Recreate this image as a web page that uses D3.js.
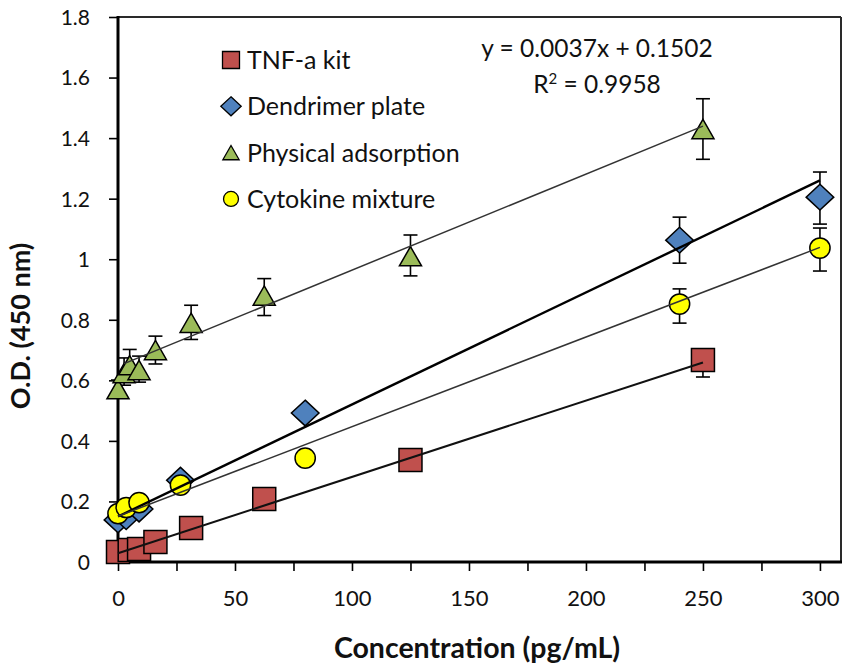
<!DOCTYPE html>
<html>
<head>
<meta charset="utf-8">
<script src="https://cdn.jsdelivr.net/npm/d3@7"></script>
<style>
  body { margin: 0; background: #fff; }
  svg { display: block; }
  text { font-family: Lato, "Open Sans", sans-serif; fill: #111; }
</style>
</head>
<body>
<svg id="chart" width="845" height="665"></svg>
<script>
// ---- data ----
const seriesNames = ["TNF-a kit", "Dendrimer plate", "Physical adsorption", "Cytokine mixture"];

const tnfX = [0, 5, 9, 16, 31.25, 62.5, 125, 250];
const tnfY = [0.033, 0.04, 0.043, 0.066, 0.112, 0.208, 0.337, 0.667];
const tnfErrUp = [0.005, 0.005, 0.005, 0.005, 0.008, 0.01, 0.012, 0.02];
const tnfErrDown = [0.005, 0.005, 0.005, 0.005, 0.008, 0.01, 0.012, 0.056];

const denX = [0, 3.5, 9, 26.7, 80, 240, 300];
const denY = [0.139, 0.15, 0.175, 0.27, 0.492, 1.063, 1.205];
const denErrUp = [0.01, 0.01, 0.01, 0.015, 0.02, 0.076, 0.083];
const denErrDown = [0.01, 0.01, 0.01, 0.015, 0.02, 0.076, 0.089];

const phyX = [0, 2.6, 5, 9, 16, 31.25, 62.5, 125, 250];
const phyY = [0.571, 0.624, 0.65, 0.634, 0.70, 0.79, 0.88, 1.01, 1.43];
const phyErrUp = [0.03, 0.05, 0.052, 0.046, 0.046, 0.058, 0.056, 0.07, 0.1];
const phyErrDown = [0.03, 0.04, 0.045, 0.04, 0.046, 0.055, 0.066, 0.065, 0.1];

const cytX = [0, 3.5, 9, 26.7, 80, 240, 300];
const cytY = [0.16, 0.18, 0.196, 0.254, 0.343, 0.852, 1.037];
const cytErrUp = [0.01, 0.01, 0.01, 0.012, 0.015, 0.05, 0.066];
const cytErrDown = [0.01, 0.01, 0.01, 0.012, 0.015, 0.063, 0.076];

// linear trendlines, in legend order
const trendSlope = [0.00252, 0.0037, 0.00317, 0.00296];
const trendIntercept = [0.029, 0.1502, 0.647, 0.151];
const trendStart = [0, 0, 2.6, 0];
const trendEnd = [250, 300, 250, 300];

const xTicks = [0, 25, 50, 75, 100, 125, 150, 175, 200, 225, 250, 275, 300];
const xTickLabels = [0, 50, 100, 150, 200, 250, 300];
const yTicks = [0, 0.2, 0.4, 0.6, 0.8, 1, 1.2, 1.4, 1.6, 1.8];

const equationText = "y = 0.0037x + 0.1502";
const r2Value = "0.9958";

// ---- layout ----
const svg = d3.select("#chart");
const plotLeft = 118, plotRight = 841, plotTop = 17, plotBottom = 562;
const x = d3.scaleLinear().domain([0, 309]).range([plotLeft, plotRight]);
const y = d3.scaleLinear().domain([0, 1.8]).range([plotBottom, plotTop]);

const fills = ["#c0504d", "#4f81bd", "#9bbb59", "#ffff00"];
const shapes = ["square", "diamond", "triangle", "circle"];

function markerPath(shape, s) {
  // s = nominal marker size in px
  const p = d3.path();
  if (shape === "square") {
    const h = s / 2;
    p.rect(-h, -h, s, s);
  } else if (shape === "diamond") {
    const w = s * 0.6, h = s * 0.56;
    p.moveTo(0, -h); p.lineTo(w, 0); p.lineTo(0, h); p.lineTo(-w, 0); p.closePath();
  } else if (shape === "triangle") {
    const w = s * 0.48, h = s * 0.42;
    p.moveTo(0, -h); p.lineTo(w, h); p.lineTo(-w, h); p.closePath();
  } else {
    p.arc(0, 0, s * 0.44, 0, 2 * Math.PI);
  }
  return p.toString();
}

// ---- frame ----
svg.append("line").attr("x1", plotLeft).attr("x2", plotRight).attr("y1", plotTop).attr("y2", plotTop)
  .attr("stroke", "#2a2a2a").attr("stroke-width", 2);
svg.append("line").attr("x1", plotRight).attr("x2", plotRight).attr("y1", plotTop).attr("y2", plotBottom)
  .attr("stroke", "#2a2a2a").attr("stroke-width", 2);

// ---- axes ----
const yAxis = d3.axisLeft(y).tickValues(yTicks).tickSize(9).tickPadding(0)
  .tickFormat(d => String(+d.toFixed(1)));
const gy = svg.append("g").attr("transform", `translate(${plotLeft},0)`).call(yAxis);
gy.select(".domain").remove();
gy.selectAll(".tick line").attr("stroke", "#000").attr("stroke-width", 1.6);
gy.selectAll(".tick text").attr("x", -28).attr("font-size", 21).attr("dy", "0.35em")
  .style("font-family", "Lato, sans-serif");

const xAxis = d3.axisBottom(x).tickValues(xTicks).tickSize(9).tickPadding(0)
  .tickFormat(d => xTickLabels.includes(d) ? d : "");
const gx = svg.append("g").attr("transform", `translate(0,${plotBottom})`).call(xAxis);
gx.select(".domain").remove();
gx.selectAll(".tick line").attr("stroke", "#000").attr("stroke-width", 1.6);
gx.selectAll(".tick text").attr("y", 44).attr("dy", "0").attr("font-size", 22)
  .style("font-family", "Lato, sans-serif");

svg.append("line").attr("x1", plotLeft).attr("x2", plotLeft).attr("y1", plotTop - 1).attr("y2", plotBottom + 1.5)
  .attr("stroke", "#000").attr("stroke-width", 3);
svg.append("line").attr("x1", plotLeft - 1.5).attr("x2", plotRight + 1).attr("y1", plotBottom).attr("y2", plotBottom)
  .attr("stroke", "#000").attr("stroke-width", 3);

// axis titles
svg.append("text").attr("x", 477).attr("y", 658).attr("text-anchor", "middle")
  .attr("font-size", 28.5).attr("font-weight", "bold").text("Concentration (pg/mL)");
svg.append("text").attr("transform", "translate(30,326) rotate(-90)").attr("text-anchor", "middle")
  .attr("font-size", 27).attr("font-weight", "bold").text("O.D. (450 nm)");

// ---- series ----
const series = [
  { xs: tnfX, ys: tnfY, up: tnfErrUp, down: tnfErrDown },
  { xs: denX, ys: denY, up: denErrUp, down: denErrDown },
  { xs: phyX, ys: phyY, up: phyErrUp, down: phyErrDown },
  { xs: cytX, ys: cytY, up: cytErrUp, down: cytErrDown }
];
const cap = 7;

series.forEach((s, i) => {
  const g = svg.append("g");
  const pts = s.xs.map((xv, j) => ({ x: xv, y: s.ys[j], up: s.up[j], down: s.down[j] }));
  // error bars (behind markers)
  const eb = g.append("g").attr("stroke", "#000").attr("stroke-width", 1.6);
  pts.forEach(d => {
    const cx = x(d.x), yt = y(d.y + d.up), yb = y(d.y - d.down);
    eb.append("line").attr("x1", cx).attr("x2", cx).attr("y1", yt).attr("y2", yb);
    eb.append("line").attr("x1", cx - cap).attr("x2", cx + cap).attr("y1", yt).attr("y2", yt);
    eb.append("line").attr("x1", cx - cap).attr("x2", cx + cap).attr("y1", yb).attr("y2", yb);
  });
  g.selectAll("path.m").data(pts).join("path").attr("class", "m")
    .attr("d", markerPath(shapes[i], 23))
    .attr("transform", d => `translate(${x(d.x)},${y(d.y)})`)
    .attr("fill", fills[i]).attr("stroke", "#000").attr("stroke-width", 1.5);
});

// ---- trendlines (drawn over markers) ----
const trendWidths = [2, 2.4, 1.5, 1.5];
const trendColors = ["#111", "#000", "#333", "#333"];
seriesNames.forEach((n, i) => {
  const x0 = trendStart[i], x1 = trendEnd[i];
  svg.append("line")
    .attr("x1", x(x0)).attr("y1", y(trendIntercept[i] + trendSlope[i] * x0))
    .attr("x2", x(x1)).attr("y2", y(trendIntercept[i] + trendSlope[i] * x1))
    .attr("stroke", trendColors[i]).attr("stroke-width", trendWidths[i]);
});

// ---- legend ----
const lg = svg.append("g");
seriesNames.forEach((n, i) => {
  const cy = 60 + i * 46.3;
  lg.append("path").attr("d", markerPath(shapes[i], 17))
    .attr("transform", `translate(231,${cy})`)
    .attr("fill", fills[i]).attr("stroke", "#000").attr("stroke-width", 1.3);
  lg.append("text").attr("x", 247).attr("y", cy).attr("dy", "0.36em")
    .attr("font-size", 25).text(n);
});

// ---- trendline equation ----
svg.append("text").attr("x", 597).attr("y", 57).attr("text-anchor", "middle")
  .attr("font-size", 24.5).text(equationText);
const r2 = svg.append("text").attr("x", 597).attr("y", 93).attr("text-anchor", "middle")
  .attr("font-size", 24.5);
r2.append("tspan").text("R");
r2.append("tspan").attr("dy", -9).attr("font-size", 15).text("2");
r2.append("tspan").attr("dy", 9).text(" = " + r2Value);
</script>
</body>
</html>
